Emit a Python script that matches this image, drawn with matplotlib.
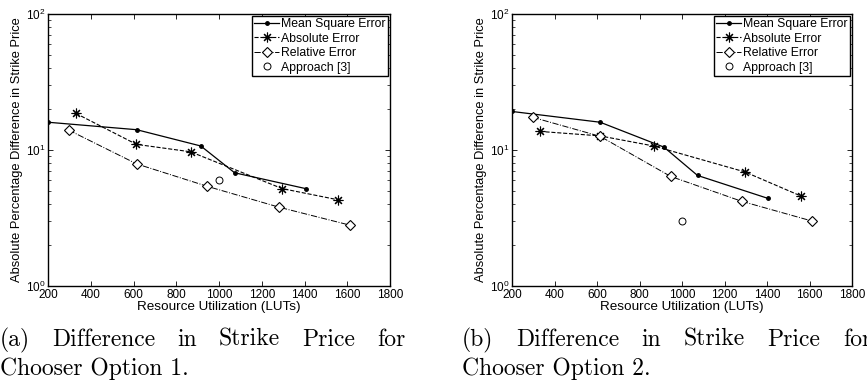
import matplotlib
matplotlib.use("Agg")
import matplotlib.pyplot as plt

plt.rcParams['font.family'] = ['Liberation Sans', 'DejaVu Sans']
plt.rcParams['mathtext.fontset'] = 'custom'
plt.rcParams['mathtext.rm'] = 'Liberation Sans'

# x positions (LUTs) for each method, shared by both panels
mse_x = [200, 615, 915, 1073, 1406]
abs_x = [330, 614, 867, 1296, 1558]
rel_x = [297, 615, 946, 1280, 1613]
app_x = [1000]

# panel (a): chooser option 1
mse_a = [16.0, 14.1, 10.7, 6.8, 5.2]
abs_a = [18.6, 11.0, 9.7, 5.2, 4.3]
rel_a = [14.0, 7.9, 5.4, 3.8, 2.8]
app_a = [6.0]

# panel (b): chooser option 2
mse_b = [19.2, 16.0, 10.5, 6.5, 4.4]
abs_b = [13.7, 12.7, 10.7, 6.9, 4.6]
rel_b = [17.4, 12.6, 6.4, 4.2, 3.0]
app_b = [3.0]

captions = [
    ("(a) Difference in Strike Price for", "Chooser Option 1."),
    ("(b) Difference in Strike Price for", "Chooser Option 2."),
]

W, H = 867, 380
fig = plt.figure(figsize=(W / 100, H / 100), dpi=100)


def draw_panel(ax, mse, ab, rel, app):
    ax.semilogy(mse_x, mse, '-', color='k', lw=0.9, marker='.', ms=5,
                label='Mean Square Error')
    ax.semilogy(abs_x, ab, '--', color='k', lw=0.8, marker=(8, 2, 0), ms=7,
                mew=0.8, label='Absolute Error')
    ax.semilogy(rel_x, rel, '-.', color='k', lw=0.7, marker='D', ms=5.5,
                mfc='white', mew=0.8, label='Relative Error')
    ax.semilogy(app_x, app, 'o', color='k', ms=5, mfc='white', mew=0.7,
                label='Approach [3]')
    ax.set_xlim(200, 1800)
    ax.set_ylim(1, 100)
    ax.set_xticks(range(200, 1801, 200))
    ax.tick_params(which='both', direction='in', top=True, right=True,
                   labelsize=8.5, pad=2)
    ax.tick_params(which='major', length=3.5, width=0.6)
    ax.tick_params(which='minor', length=2, width=0.5)
    for s in ax.spines.values():
        s.set_linewidth(1.0)
    ax.set_xlabel('Resource Utilization (LUTs)', fontsize=9.7, labelpad=0)
    ax.set_ylabel('Absolute Percentage Difference in Strike Price',
                  fontsize=9.3, labelpad=2)
    leg = ax.legend(loc='upper right', fontsize=8.8, labelspacing=0.2,
                    handlelength=2.0, handletextpad=0.2, borderpad=0.2,
                    borderaxespad=0.15, fancybox=False, framealpha=1,
                    edgecolor='k')
    leg.get_frame().set_linewidth(1.0)


ax1 = fig.add_axes([48 / W, 1 - 286 / H, 342 / W, 272 / H])
draw_panel(ax1, mse_a, abs_a, rel_a, app_a)
ax2 = fig.add_axes([512 / W, 1 - 286 / H, 340 / W, 272 / H])
draw_panel(ax2, mse_b, abs_b, rel_b, app_b)

# justified two-line captions in a serif font
renderer = fig.canvas.get_renderer()
cap_font = dict(family='cmr10', fontsize=17)
for (line1, line2), x0, x1 in zip(captions, [0, 462], [405, 871]):
    words = line1.split()
    texts = [fig.text(0, 1 - 346 / H, w, va='baseline', ha='left', **cap_font)
             for w in words]
    widths = [t.get_window_extent(renderer).width for t in texts]
    gap = ((x1 - x0) - sum(widths)) / (len(words) - 1)
    x = x0
    for t, w in zip(texts, widths):
        t.set_x(x / W)
        x += w + gap
    fig.text(x0 / W, 1 - 375 / H, line2, va='baseline', ha='left', **cap_font)

fig.savefig('out.png', dpi=100)
